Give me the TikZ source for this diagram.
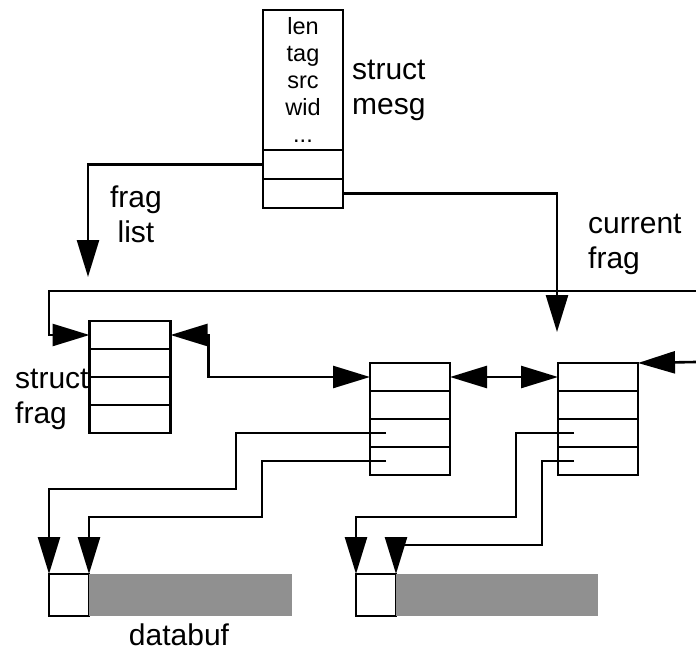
\documentclass[tikz,border=0pt]{standalone}
\usepackage{fontspec}
\setmainfont{Liberation Sans}
\usepackage{tikz}
\usetikzlibrary{arrows.meta,positioning}

\definecolor{bufgray}{HTML}{909090}

\begin{document}
\begin{tikzpicture}[
    x=1pt, y=-1pt,
    cell/.style={draw, rectangle, line width=2.6pt, minimum width=81pt, minimum height=28pt, inner sep=0pt, outer sep=0pt},
    lbl/.style={font=\fontsize{30}{35}\selectfont, align=left, inner sep=0pt},
    ptr/.style={-{Triangle[length=37pt,width=22pt]}, line width=2.6pt},
    dbl/.style={{Triangle[length=37pt,width=22pt]}-{Triangle[length=37pt,width=22pt]}, line width=2.6pt}
]
    \useasboundingbox (0,0) rectangle (696,650);

    % struct mesg
    \node[cell, minimum width=80pt, minimum height=140pt, font=\fontsize{23.5}{27}\selectfont, align=center] (mbody) at (303,80) {len\\tag\\src\\wid\\...};
    \node[cell, minimum width=80pt, minimum height=29pt, below=0pt of mbody] (m1) {};
    \node[cell, minimum width=80pt, minimum height=29pt, below=0pt of m1] (m2) {};
    \node[lbl, anchor=base west] (mesglbl) at (352,115) {struct\\mesg};

    % three struct frag boxes
    \node[cell] (f1a) at (130,335) {};
    \node[cell, below=0pt of f1a] (f1b) {};
    \node[cell, below=0pt of f1b] (f1c) {};
    \node[cell, below=0pt of f1c] (f1d) {};

    \node[cell, minimum width=80pt] (f2a) at (410,377) {};
    \node[cell, minimum width=80pt, below=0pt of f2a] (f2b) {};
    \node[cell, minimum width=80pt, below=0pt of f2b] (f2c) {};
    \node[cell, minimum width=80pt, below=0pt of f2c] (f2d) {};

    \node[cell, minimum width=80pt] (f3a) at (598,377) {};
    \node[cell, minimum width=80pt, below=0pt of f3a] (f3b) {};
    \node[cell, minimum width=80pt, below=0pt of f3b] (f3c) {};
    \node[cell, minimum width=80pt, below=0pt of f3c] (f3d) {};

    \node[lbl, anchor=base west] (fraglbl) at (15,423) {struct\\frag};

    % data buffers
    \node[cell, minimum width=40pt, minimum height=42pt] (db1) at (69,595) {};
    \node[rectangle, fill=bufgray, minimum width=203pt, minimum height=42pt, inner sep=0pt, right=0pt of db1] (buf1) {};
    \node[cell, minimum width=40pt, minimum height=42pt] (db2) at (376,595) {};
    \node[rectangle, fill=bufgray, minimum width=202pt, minimum height=42pt, inner sep=0pt, right=0pt of db2] (buf2) {};
    \node[lbl, anchor=base] (buflbl) at (179,645) {databuf};

    % list pointers
    \coordinate (fl) at (88,277);
    \coordinate (cf) at (557,332);
    \coordinate (ringR) at (696,291);
    \coordinate (ringL) at (49,291);
    \coordinate (back) at (696,362);

    \draw[ptr] (m1.west) -| (fl);
    \node[lbl, align=center, anchor=base] (fllbl) at (136,242) {frag\\list};
    \draw[ptr] (m2.east) -| (cf);
    \node[lbl, anchor=base west] (cflbl) at (588,268) {current\\frag};

    \draw[ptr] (ringR) -- (ringL) |- (f1a.west);
    \draw[dbl] (f1a.east) -- ++(38,0) |- (f2a.west);
    \draw[dbl] (f2a.east) -- (f3a.west);
    \draw[ptr] (back) -- (f3a.north east);

    % pointers into the data buffers
    \draw[ptr] ([xshift=16pt]f2c.west) -| (236,489) -| (db1.north west);
    \draw[ptr] ([xshift=16pt]f2d.west) -| (262,517) -| (db1.north east);
    \draw[ptr] ([xshift=16pt]f3c.west) -| (516,517) -| (db2.north west);
    \draw[ptr] ([xshift=16pt]f3d.west) -| (542,545) -| (db2.north east);

\end{tikzpicture}
\end{document}
